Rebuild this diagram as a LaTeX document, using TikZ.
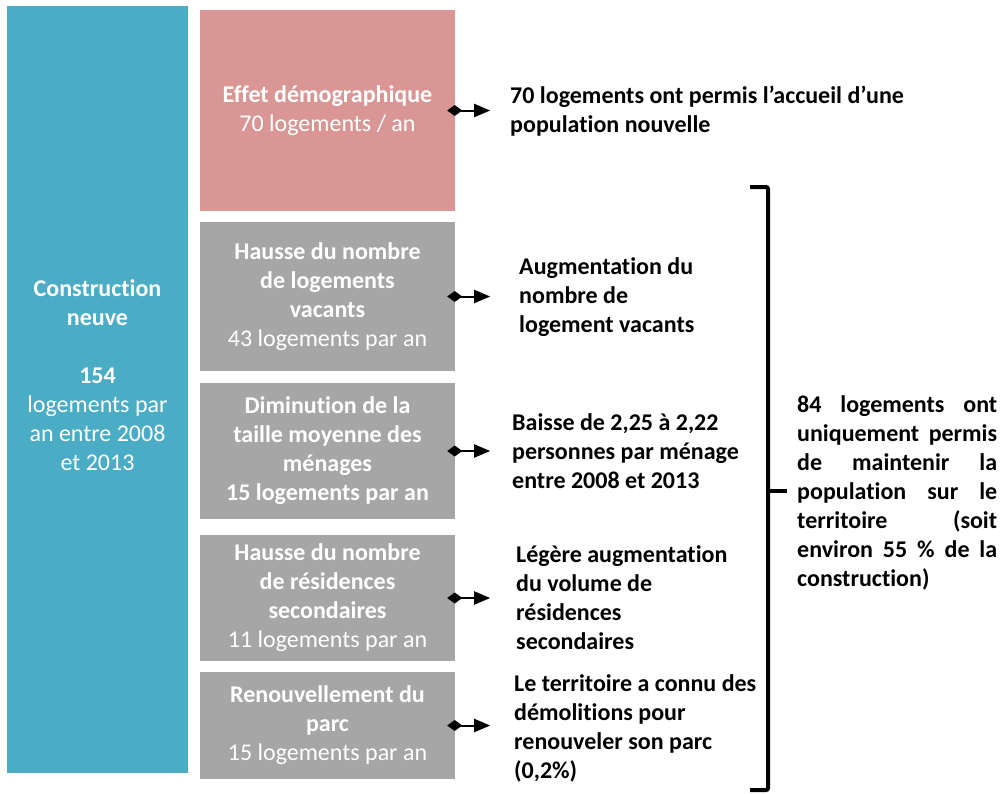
\documentclass[tikz,border=0pt]{standalone}
\usepackage{fontspec}
\setmainfont[Ligatures=NoCommon]{Carlito}
\usetikzlibrary{arrows.meta,positioning}
\definecolor{blue}{RGB}{75,172,198}
\definecolor{pink}{RGB}{217,150,148}
\definecolor{grey}{RGB}{166,166,166}

\begin{document}
\begin{tikzpicture}[x=1pt, y=-1pt, font=\fontsize{24}{29}\selectfont,
  box/.style={minimum width=255pt, inner sep=0pt, align=center, text=white},
  note/.style={anchor=west, align=left, inner sep=0pt, font=\fontsize{24}{29}\selectfont\bfseries},
  link/.style={{Diamond[length=15pt,width=11pt]}-{Triangle[length=16pt,width=13pt]}, line width=2pt}]
\useasboundingbox (0,0) rectangle (1001,793);
% left column
\node[fill=blue, minimum width=181pt, minimum height=767pt, inner sep=0pt] (cons) at (97.5,389.5) {};
\node[align=center, text=white, inner sep=0pt] (constxt) at ([yshift=14pt]cons.center)
  {\textbf{Construction}\\\textbf{neuve}\\[29pt]\textbf{154}\\logements par\\an entre 2008\\et 2013};
% middle boxes
\node[box, fill=pink, minimum height=201pt] (effet) at (327.5,110.5)
  {\textbf{Effet démographique}\\70 logements / an};
\node[box, fill=grey, minimum height=149pt] (vac) at (327.5,296.5)
  {\textbf{Hausse du nombre}\\\textbf{de logements}\\\textbf{vacants}\\43 logements par an};
\node[box, fill=grey, minimum height=136pt] (taille) at (327.5,451)
  {\textbf{Diminution de la}\\\textbf{taille moyenne des}\\\textbf{ménages}\\\textbf{15 logements par an}};
\node[box, fill=grey, minimum height=126pt] (resid) at (327.5,598)
  {\textbf{Hausse du nombre}\\\textbf{de résidences}\\\textbf{secondaires}\\11 logements par an};
\node[box, fill=grey, minimum height=107pt] (renouv) at (327.5,725.5)
  {\textbf{Renouvellement du}\\\textbf{parc}\\15 logements par an};
% right notes
\node[note] (n1) at (510,111) {70 logements ont permis l’accueil d’une\\population nouvelle};
\node[note] (n2) at (519,297) {Augmentation du\\nombre de\\logement vacants};
\node[note] (n3) at (512,451) {Baisse de 2,25 à 2,22\\personnes par ménage\\entre 2008 et 2013};
\node[note] (n4) at (516,598) {Légère augmentation\\du volume de\\résidences\\secondaires};
\node[note] (n5) at (514,728) {Le territoire a connu des\\démolitions pour\\renouveler son parc\\(0,2\%)};
% arrows
\foreach \b in {effet,vac,taille,resid,renouv}
  \draw[link] ([xshift=-8pt]\b.east) -- ([xshift=35pt]\b.east);
% bracket
\coordinate (top) at (750,187);
\coordinate (bot) at (750,790);
\draw[line width=4pt, rounded corners=2pt] (top) -- (768,187) -- (768,790) -- (bot);
\draw[line width=4pt] (768,491) -- (787,491);
\node[note, text width=200pt, align=justify] (total) at (797,493)
  {84 logements ont\linebreak uniquement permis\linebreak de maintenir la\linebreak population sur le\linebreak territoire (soit\linebreak environ 55 \% de la\linebreak construction)};
\end{tikzpicture}
\end{document}
